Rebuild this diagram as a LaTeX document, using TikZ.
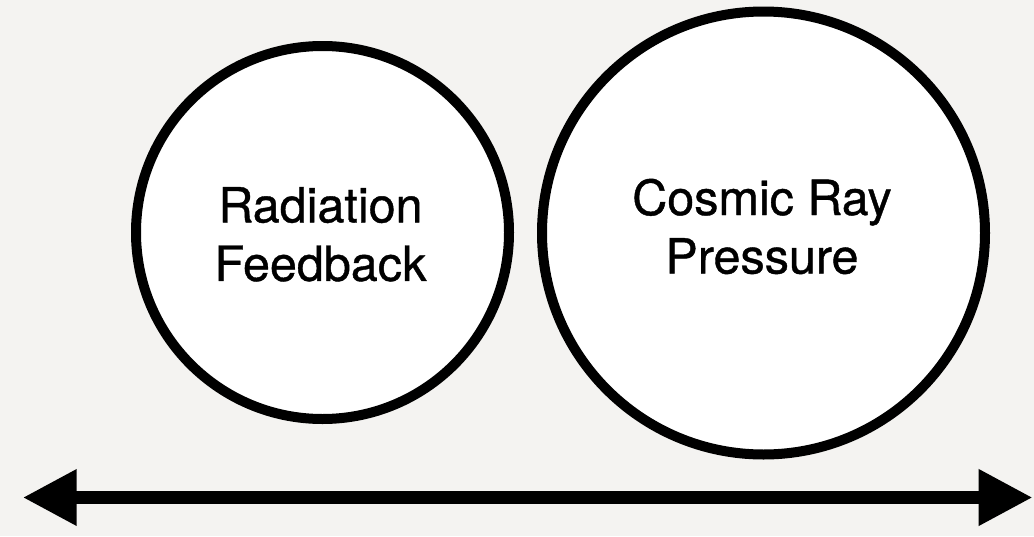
\documentclass[tikz,border=0pt]{standalone}
\usepackage{fontspec}
\setmainfont[FakeBold=0.8]{TeX Gyre Heros}
\usetikzlibrary{arrows.meta}
\definecolor{bg}{HTML}{F4F3F1}
\tikzset{
  bubble/.style={circle, draw=black, line width=10pt, fill=white, inner sep=0pt},
  label/.style={align=center, font=\fontsize{48.5}{58.5}\selectfont, inner sep=0pt},
  axis/.style={line width=13pt, {Triangle[length=54pt,width=53pt]}-{Triangle[length=54pt,width=53pt]}}
}
\begin{document}
\begin{tikzpicture}[x=1pt,y=-1pt]
  \fill[bg] (0,0) rectangle (1034,536);
  \useasboundingbox (0,0) rectangle (1034,536);
  \node[bubble, minimum size=373pt] (rf) at (322.5,232.5) {};
  \node[bubble, minimum size=443pt] (cr) at (763.5,233) {};
  \node[label] (rft) at (320.5,234.3) {Radiation\\Feedback};
  \node[label] (crt) at (762,226.5) {Cosmic Ray\\Pressure};
  \coordinate (L) at (22.7,497.5);
  \coordinate (R) at (1032.7,497.5);
  \draw[axis] (L) -- (R);
\end{tikzpicture}
\end{document}
